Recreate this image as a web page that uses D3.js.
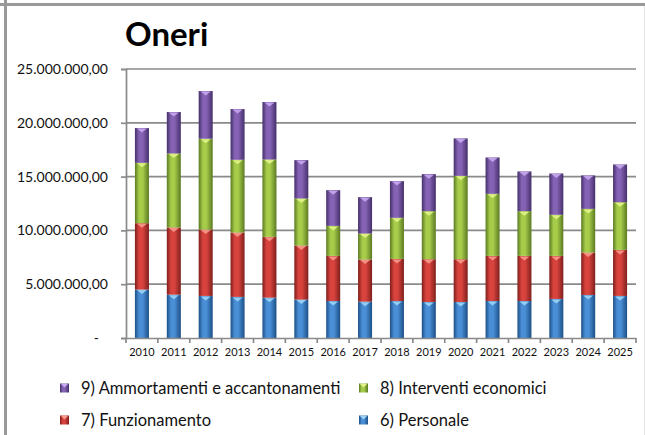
<!DOCTYPE html>
<html>
<head>
<meta charset="utf-8">
<script src="https://cdn.jsdelivr.net/npm/d3@7"></script>
<style>
  body { margin: 0; background: #fff; }
  svg { display: block; font-family: Lato, "Open Sans", sans-serif; }
</style>
</head>
<body>
<svg width="645" height="435"></svg>
<script>
const years = ["2010","2011","2012","2013","2014","2015","2016","2017","2018","2019","2020","2021","2022","2023","2024","2025"];
const personale      = [4.50,4.03,3.91,3.82,3.75,3.57,3.44,3.38,3.44,3.35,3.35,3.44,3.44,3.63,4.00,3.91];
const funzionamento  = [6.17,6.24,6.17,5.98,5.65,5.02,4.19,3.91,3.91,3.97,3.97,4.19,4.19,4.00,3.94,4.28];
const interventi     = [5.61,6.88,8.44,6.76,7.19,4.38,2.79,2.42,3.82,4.47,7.75,5.77,4.16,3.82,4.06,4.43];
const ammortamenti   = [3.23,3.85,4.43,4.72,5.34,3.56,3.32,3.38,3.41,3.44,3.48,3.38,3.69,3.84,3.11,3.51];
const yTickValues = [0, 5000000, 10000000, 15000000, 20000000, 25000000];

const seriesKeys = ["personale", "funzionamento", "interventi", "ammortamenti"];
const seriesLabels = {
  ammortamenti: "9) Ammortamenti e accantonamenti",
  interventi: "8) Interventi economici",
  funzionamento: "7) Funzionamento",
  personale: "6) Personale"
};
// edge / middle / cap colours
const colors = {
  personale:     {dark: "#1c4f86", mid: "#4a8fd6", cap: "#9fd4f5"},
  funzionamento: {dark: "#7e1f1c", mid: "#d9433e", cap: "#f59a8c"},
  interventi:    {dark: "#5b7a22", mid: "#a6cc4a", cap: "#e3f58a"},
  ammortamenti:  {dark: "#45306b", mid: "#8562b3", cap: "#c6a9ef"}
};

const table = years.map((yr, i) => ({
  year: yr,
  personale: personale[i] * 1e6,
  funzionamento: funzionamento[i] * 1e6,
  interventi: interventi[i] * 1e6,
  ammortamenti: ammortamenti[i] * 1e6
}));

const svg = d3.select("svg");
const plotLeft = 126, plotRight = 636, plotTop = 69, plotBottom = 338;

// frame lines
svg.append("line").attr("x1", 0).attr("x2", 645).attr("y1", 4.5).attr("y2", 4.5)
  .attr("stroke", "#999").attr("stroke-width", 3);
svg.append("line").attr("x1", 5.5).attr("x2", 5.5).attr("y1", 0).attr("y2", 435)
  .attr("stroke", "#999").attr("stroke-width", 3);
svg.append("line").attr("x1", 644.5).attr("x2", 644.5).attr("y1", 6).attr("y2", 435)
  .attr("stroke", "#e4e4e4").attr("stroke-width", 1);

const defs = svg.append("defs");
seriesKeys.forEach(k => {
  const g = defs.append("linearGradient").attr("id", "grad-" + k)
    .attr("x1", "0%").attr("x2", "100%").attr("y1", "0%").attr("y2", "0%");
  g.append("stop").attr("offset", "0%").attr("stop-color", colors[k].dark);
  g.append("stop").attr("offset", "30%").attr("stop-color", colors[k].mid);
  g.append("stop").attr("offset", "55%").attr("stop-color", colors[k].mid);
  g.append("stop").attr("offset", "100%").attr("stop-color", colors[k].dark);
});

const x = d3.scaleBand().domain(years).range([plotLeft, plotRight])
  .paddingInner(0.56).paddingOuter(0.28);
const y = d3.scaleLinear().domain([0, 25000000]).range([plotBottom, plotTop]);

const it = d3.formatLocale({decimal: ",", thousands: ".", grouping: [3], currency: ["", ""]});
const fmt = it.format(",.2f");

// gridlines
svg.append("g").selectAll("line")
  .data(yTickValues.filter(d => d > 0))
  .join("line")
  .attr("x1", plotLeft).attr("x2", plotRight)
  .attr("y1", d => y(d)).attr("y2", d => y(d))
  .attr("stroke", "#8a8a8a").attr("stroke-width", 1.7);

// y axis
const yAxis = d3.axisLeft(y).tickValues(yTickValues).tickSize(5).tickPadding(13)
  .tickFormat(d => d === 0 ? "-" : fmt(d));
const yG = svg.append("g").attr("transform", `translate(${plotLeft},0)`).call(yAxis);
yG.select(".domain").attr("stroke", "#8a8a8a").attr("stroke-width", 1.7);
yG.selectAll(".tick line").attr("stroke", "#8a8a8a").attr("stroke-width", 1.7);
yG.selectAll(".tick text").attr("font-size", 14).attr("fill", "#111")
  .attr("font-family", "Lato, sans-serif");
yG.selectAll(".tick text").filter(d => d === 0).attr("dx", -9);

// bars
const stacked = d3.stack().keys(seriesKeys)(table);
const bw = x.bandwidth();
const layers = svg.append("g").selectAll("g")
  .data(stacked)
  .join("g");

layers.selectAll("rect")
  .data(s => s.map(d => ({key: s.key, d})))
  .join("rect")
  .attr("x", p => x(p.d.data.year))
  .attr("y", p => y(p.d[1]))
  .attr("width", bw)
  .attr("height", p => y(p.d[0]) - y(p.d[1]))
  .attr("fill", p => `url(#grad-${p.key})`);

// little light cap at the top of each segment
layers.selectAll("path")
  .data(s => s.map(d => ({key: s.key, d})))
  .join("path")
  .attr("d", p => {
    const x0 = x(p.d.data.year), yt = y(p.d[1]);
    return `M${x0 + 2},${yt + 0.5}L${x0 + bw - 2},${yt + 0.5}L${x0 + bw / 2},${yt + 4.5}Z`;
  })
  .attr("fill", p => colors[p.key].cap)
  .attr("opacity", 0.9);

// x axis
const xAxis = d3.axisBottom(x).tickSize(0).tickPadding(10);
const xG = svg.append("g").attr("transform", `translate(0,${plotBottom})`).call(xAxis);
xG.select(".domain").attr("stroke", "#8a8a8a").attr("stroke-width", 1.7);
xG.selectAll(".tick text").attr("font-size", 11).attr("fill", "#111")
  .attr("font-family", "Lato, sans-serif");
const gap = x.step() * x.paddingInner() / 2;
const bounds = years.map(yr => x(yr) - gap).concat([x(years[years.length - 1]) + bw + gap]);
svg.append("g").selectAll("line")
  .data(bounds)
  .join("line")
  .attr("x1", d => d).attr("x2", d => d)
  .attr("y1", plotBottom).attr("y2", plotBottom + 5)
  .attr("stroke", "#8a8a8a").attr("stroke-width", 1.7);

// title
svg.append("text").attr("x", 125).attr("y", 46)
  .attr("font-size", 33).attr("font-weight", "bold")
  .attr("font-family", "Lato, sans-serif")
  .text("Oneri");

// legend
const legendItems = [
  {key: "ammortamenti", col: 0, row: 0},
  {key: "interventi", col: 1, row: 0},
  {key: "funzionamento", col: 0, row: 1},
  {key: "personale", col: 1, row: 1}
];
const lg = svg.append("g").selectAll("g")
  .data(legendItems)
  .join("g")
  .attr("transform", d => `translate(${d.col === 0 ? 60 : 359},${d.row === 0 ? 388 : 420})`);
lg.append("rect").attr("x", 0).attr("y", -4.5).attr("width", 9).attr("height", 9)
  .attr("fill", d => `url(#grad-${d.key})`);
lg.append("path").attr("d", "M1,-4L8,-4L4.5,-0.5Z").attr("fill", d => colors[d.key].cap);
lg.append("text").attr("x", 21).attr("y", 0).attr("dy", "0.35em")
  .attr("font-size", 16.5).attr("fill", "#111")
  .attr("font-family", "Lato, sans-serif")
  .text(d => seriesLabels[d.key]);
</script>
</body>
</html>
